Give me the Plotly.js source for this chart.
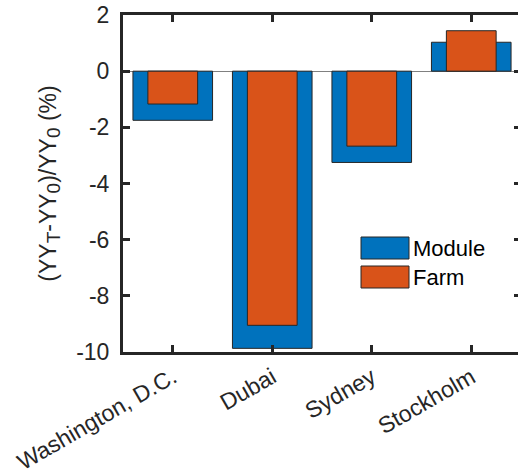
<!DOCTYPE html>
<html>
<head>
<meta charset="utf-8">
<script src="https://cdn.plot.ly/plotly-3.0.1.min.js"></script>
<style>
html, body { margin: 0; padding: 0; overflow: hidden; background: #fff; }
#chart { width: 524px; height: 474px; }
</style>
</head>
<body>
<div id="chart"></div>
<script>
var categories = ["Washington, D.C.", "Dubai", "Sydney", "Stockholm"];
var moduleValues = [-1.75, -9.87, -3.25, 1.03];
var farmValues = [-1.17, -9.05, -2.67, 1.44];
var seriesNames = ["Module", "Farm"];
var yTickVals = [-10, -8, -6, -4, -2, 0, 2];
var yTickText = ["-10", "-8", "-6", "-4", "-2", "0", "2"];
var yTitle = "(YY<sub><span style='font-size:19px'>T</span></sub>-YY<sub><span style='font-size:19px'>0</span></sub>)/YY<sub><span style='font-size:19px'>0</span></sub> (%)";

var blue = "#0072BD", orange = "#D95319", axisCol = "#262626";
var fontFam = "Arial, 'Liberation Sans', Helvetica, sans-serif";
var fs = 23;

var traces = [
  { type: "bar", x: categories, y: moduleValues, name: seriesNames[0], width: 0.8,
    marker: { color: blue, line: { color: axisCol, width: 1 } }, showlegend: false, hoverinfo: "none" },
  { type: "bar", x: categories, y: farmValues, name: seriesNames[1], width: 0.5,
    marker: { color: orange, line: { color: axisCol, width: 1 } }, showlegend: false, hoverinfo: "none" }
];

function px(x) { return (x - 123) / 398; }
function py(y) { return (352 - y) / 337; }

var legendItems = [
  { name: seriesNames[0], color: blue, top: 237, bottom: 259 },
  { name: seriesNames[1], color: orange, top: 266, bottom: 288 }
];
var shapes = [], annotations = [];
legendItems.forEach(function (it) {
  shapes.push({ type: "rect", xref: "paper", yref: "paper",
    x0: px(361), x1: px(409), y0: py(it.bottom), y1: py(it.top),
    fillcolor: it.color, line: { color: axisCol, width: 1 }, layer: "above" });
  annotations.push({ xref: "paper", yref: "paper", x: px(411), y: py((it.top + it.bottom) / 2),
    xanchor: "left", yanchor: "middle", showarrow: false, text: it.name,
    font: { family: fontFam, size: 22, color: "#000" } });
});

var layout = {
  width: 524, height: 474,
  margin: { l: 123, r: 3, t: 15, b: 122 },
  paper_bgcolor: "#fff", plot_bgcolor: "#fff",
  barmode: "overlay",
  showlegend: false,
  font: { family: fontFam, size: fs, color: axisCol },
  xaxis: {
    type: "category", range: [-0.5, 3.5],
    showline: true, linecolor: axisCol, linewidth: 3, mirror: "ticks",
    ticks: "inside", ticklen: 7, tickwidth: 3, tickcolor: axisCol,
    tickangle: -30, showgrid: false, zeroline: false,
    tickfont: { family: fontFam, size: fs, color: axisCol }
  },
  yaxis: {
    range: [-10, 2], tickvals: yTickVals, ticktext: yTickText,
    showline: true, linecolor: axisCol, linewidth: 3, mirror: "ticks",
    ticks: "inside", ticklen: 7, tickwidth: 3, tickcolor: axisCol,
    showgrid: false, zeroline: true, zerolinecolor: "#808080", zerolinewidth: 1,
    tickfont: { family: fontFam, size: fs, color: axisCol },
    ticklabelstandoff: 6,
    title: { text: yTitle, standoff: 14,
      font: { family: fontFam, size: fs, color: axisCol } }
  },
  shapes: shapes,
  annotations: annotations
};

Plotly.newPlot("chart", traces, layout, { staticPlot: true, displayModeBar: false });
</script>
</body>
</html>
